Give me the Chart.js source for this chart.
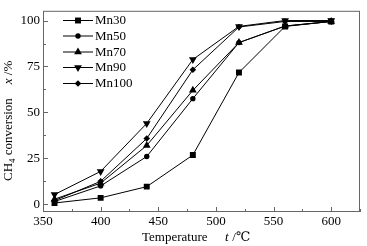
<!DOCTYPE html>
<html lang="zh">
<head>
<meta charset="UTF-8">
<title>CH4 conversion</title>
<script src="https://cdn.jsdelivr.net/npm/chart.js"></script>
<style>
  body { margin: 0; background: #fff; }
  #wrap { width: 367px; height: 246px; }
</style>
</head>
<body>
<div id="wrap"><canvas id="myChartCanvas" width="367" height="246"></canvas></div>
<script>
    // dados
    const temperaturas = [360, 400, 440, 480, 520, 560, 600];
    const mn30  = [0.7, 3.5, 9.6, 26.8, 71.7, 96.8, 99.5];
    const mn50  = [1.5, 10.0, 26.0, 57.5, 88.0, 97.0, 99.5];
    const mn70  = [2.8, 11.5, 32.0, 62.0, 88.0, 97.0, 99.5];
    const mn90  = [5.3, 17.9, 44.0, 78.8, 96.8, 100.0, 100.0];
    const mn100 = [2.0, 12.5, 35.8, 73.2, 96.5, 99.5, 99.5];
    const nomes = ['Mn30', 'Mn50', 'Mn70', 'Mn90', 'Mn100'];
    const xTicks = [350, 400, 450, 500, 550, 600];
    const yTicks = [0, 25, 50, 75, 100];

    const fonte = '"Liberation Serif", "DejaVu Serif", serif';
    const estilos = [
        { pointStyle: 'rect', radius: 4.2, rotation: 0 },
        { pointStyle: 'circle', radius: 2.7, rotation: 0 },
        { pointStyle: 'triangle', radius: 4.5, rotation: 0 },
        { pointStyle: 'triangle', radius: 4.5, rotation: 180 },
        { pointStyle: 'rectRot', radius: 3.3, rotation: 0 }
    ];

    function serie(valores) {
        return temperaturas.map(function (t, i) { return { x: t, y: valores[i] }; });
    }

    const series = [mn30, mn50, mn70, mn90, mn100];
    const datasets = series.map(function (v, i) {
        return {
            label: nomes[i],
            data: serie(v),
            borderColor: '#000',
            backgroundColor: '#000',
            borderWidth: 1,
            pointStyle: estilos[i].pointStyle,
            pointRadius: estilos[i].radius,
            pointRotation: estilos[i].rotation,
            pointBorderWidth: 0,
            tension: 0
        };
    });

    function desenharMarcador(ctx, estilo, x, y) {
        const r = estilo.radius;
        ctx.beginPath();
        if (estilo.pointStyle === 'rect') {
            const s = Math.SQRT1_2 * r;
            ctx.rect(x - s, y - s, 2 * s, 2 * s);
        } else if (estilo.pointStyle === 'circle') {
            ctx.arc(x, y, r, 0, Math.PI * 2);
        } else if (estilo.pointStyle === 'triangle') {
            const dir = estilo.rotation === 180 ? -1 : 1;
            const h = r * 1.5 * dir;
            const w = r * 0.866;
            ctx.moveTo(x, y - h * 2 / 3);
            ctx.lineTo(x - w, y + h / 3);
            ctx.lineTo(x + w, y + h / 3);
            ctx.closePath();
        } else {
            ctx.moveTo(x, y - r);
            ctx.lineTo(x + r, y);
            ctx.lineTo(x, y + r);
            ctx.lineTo(x - r, y);
            ctx.closePath();
        }
        ctx.fill();
    }

    // moldura, marcas internas, títulos e legenda
    const extras = {
        id: 'extras',
        afterDraw: function (chart) {
            const ctx = chart.ctx;
            const a = chart.chartArea;
            const sx = chart.scales.x;
            const sy = chart.scales.y;
            ctx.save();
            ctx.strokeStyle = '#666';
            ctx.lineWidth = 1;
            ctx.strokeRect(a.left + 0.5, a.top + 0.5, a.right - a.left - 1, a.bottom - a.top - 1);

            ctx.beginPath();
            for (let v = 350; v <= 625; v += 25) {
                const px = Math.round(sx.getPixelForValue(v)) + 0.5;
                const len = (v % 50 === 0) ? 5 : 3;
                ctx.moveTo(px, a.bottom);
                ctx.lineTo(px, a.bottom - len);
            }
            for (let v = 0; v <= 100; v += 12.5) {
                const py = Math.round(sy.getPixelForValue(v)) + 0.5;
                const len = (v % 25 === 0) ? 5 : 3;
                ctx.moveTo(a.left, py);
                ctx.lineTo(a.left + len, py);
            }
            ctx.stroke();

            // títulos dos eixos
            ctx.fillStyle = '#000';
            ctx.textBaseline = 'middle';
            ctx.font = '13px ' + fonte;
            ctx.textAlign = 'left';
            ctx.fillText('Temperature', 142, 238);
            ctx.font = 'italic 13px ' + fonte;
            ctx.fillText('t', 225, 238);
            ctx.font = '13px ' + fonte;
            ctx.fillText(' /\u2103', 229, 238);

            ctx.save();
            ctx.translate(9, 115);
            ctx.rotate(-Math.PI / 2);
            ctx.textAlign = 'left';
            let x0 = -66;
            ctx.font = '13px ' + fonte;
            ctx.fillText('CH', x0, 0);
            x0 += ctx.measureText('CH').width;
            ctx.font = '9px ' + fonte;
            ctx.fillText('4', x0, 4);
            x0 += ctx.measureText('4').width;
            ctx.font = '13px ' + fonte;
            ctx.fillText(' conversion', x0, 0);
            x0 += ctx.measureText(' conversion').width + 14;
            ctx.font = 'italic 13px ' + fonte;
            ctx.fillText('x', x0, 0);
            x0 += ctx.measureText('x').width;
            ctx.font = '13px ' + fonte;
            ctx.fillText(' /%', x0, 0);
            ctx.restore();

            // legenda
            const ys = [20, 35.5, 51.5, 67, 83];
            ctx.strokeStyle = '#000';
            ctx.font = '13px ' + fonte;
            ctx.textAlign = 'left';
            for (let i = 0; i < nomes.length; i++) {
                ctx.beginPath();
                ctx.moveTo(63, ys[i] + 0.5);
                ctx.lineTo(93, ys[i] + 0.5);
                ctx.stroke();
                desenharMarcador(ctx, estilos[i], 78, ys[i] + 0.5);
                ctx.fillText(nomes[i], 95, ys[i] + 1);
            }
            ctx.restore();
        }
    };

    const config = {
        type: 'line',
        data: { datasets: datasets },
        options: {
            responsive: false,
            devicePixelRatio: 1,
            animation: false,
            layout: { padding: { top: 4, right: 7, left: 0, bottom: 0 } },
            plugins: { legend: { display: false }, tooltip: { enabled: false } },
            scales: {
                x: {
                    type: 'linear',
                    min: 350,
                    max: 625,
                    afterBuildTicks: function (s) { s.ticks = xTicks.map(function (v) { return { value: v }; }); },
                    afterFit: function (s) { s.height = 34; },
                    grid: { display: false, drawTicks: false },
                    border: { display: false },
                    ticks: { color: '#000', font: { family: fonte, size: 13 }, padding: 2, maxRotation: 0 }
                },
                y: {
                    min: -4.2,
                    max: 105.3,
                    afterBuildTicks: function (s) { s.ticks = yTicks.map(function (v) { return { value: v }; }); },
                    afterFit: function (s) { s.width = 43; },
                    grid: { display: false, drawTicks: false },
                    border: { display: false },
                    ticks: { color: '#000', font: { family: fonte, size: 13 }, padding: 3 }
                }
            }
        },
        plugins: [extras]
    };

    new Chart(document.getElementById('myChartCanvas'), config);
</script>
</body>
</html>
